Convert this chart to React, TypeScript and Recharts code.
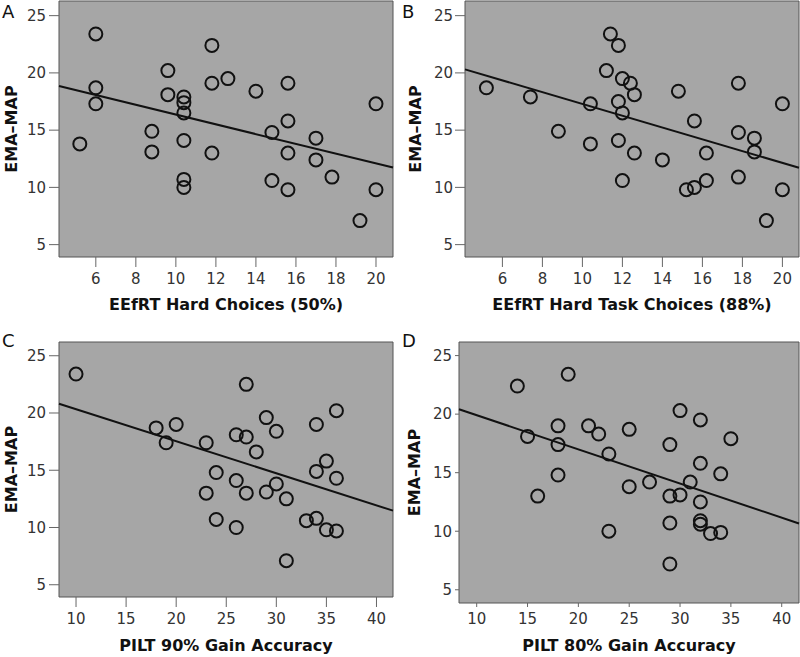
import { ScatterChart, Scatter, XAxis, YAxis, ReferenceArea, ReferenceLine } from "recharts";

type Pt = { x: number; y: number };

// A: EEfRT hard choices (50%)
const hard50X = [5.2, 6, 6, 6, 8.8, 8.8, 9.6, 9.6, 10.4, 10.4, 10.4, 10.4, 10.4, 10.4, 11.8, 11.8, 11.8, 12.6, 14, 14.8, 14.8, 15.6, 15.6, 15.6, 15.6, 17, 17, 17.8, 19.2, 20, 20];
const hard50Y = [13.8, 23.4, 18.7, 17.3, 14.9, 13.1, 20.2, 18.1, 17.9, 17.4, 16.5, 14.1, 10.7, 10.0, 22.4, 19.1, 13.0, 19.5, 18.4, 14.8, 10.6, 19.1, 15.8, 13.0, 9.8, 14.3, 12.4, 10.9, 7.1, 17.3, 9.8];
const hard50Fit: Pt[] = [{ x: 4.16, y: 18.85 }, { x: 20.85, y: 11.73 }];

// B: EEfRT hard task choices (88%)
const hard88X = [5.2, 7.4, 8.8, 10.4, 10.4, 11.2, 11.4, 11.8, 11.8, 11.8, 12, 12, 12, 12.4, 12.6, 12.6, 14, 14.8, 15.2, 15.6, 15.6, 16.2, 16.2, 17.8, 17.8, 17.8, 18.6, 18.6, 19.2, 20, 20];
const hard88Y = [18.7, 17.9, 14.9, 17.3, 13.8, 20.2, 23.4, 22.4, 17.5, 14.1, 19.5, 16.5, 10.6, 19.1, 18.1, 13.0, 12.4, 18.4, 9.8, 10.0, 15.8, 13.0, 10.6, 19.1, 14.8, 10.9, 14.3, 13.1, 7.1, 17.3, 9.8];
const hard88Fit: Pt[] = [{ x: 4.13, y: 20.31 }, { x: 20.83, y: 11.71 }];

// C: PILT 90% gain accuracy
const pilt90X = [10, 18, 19, 20, 23, 23, 24, 24, 26, 26, 26, 27, 27, 27, 28, 29, 29, 30, 30, 31, 31, 33, 34, 34, 34, 35, 35, 36, 36, 36];
const pilt90Y = [23.4, 18.7, 17.4, 19.0, 17.4, 13.0, 14.8, 10.7, 18.1, 14.1, 10.0, 17.9, 22.5, 13.0, 16.6, 19.6, 13.1, 18.4, 13.8, 12.5, 7.1, 10.6, 19.0, 14.9, 10.8, 15.8, 9.8, 20.2, 14.3, 9.7];
const pilt90Fit: Pt[] = [{ x: 8.3, y: 20.81 }, { x: 41.65, y: 11.47 }];

// D: PILT 80% gain accuracy
const pilt80X = [14, 15, 16, 18, 18, 18, 19, 21, 22, 23, 23, 25, 25, 27, 29, 29, 29, 29, 30, 30, 31, 32, 32, 32, 32, 32, 33, 34, 34, 35];
const pilt80Y = [22.4, 18.1, 13.0, 19.0, 17.4, 14.8, 23.4, 19.0, 18.3, 16.6, 10.0, 18.7, 13.8, 14.2, 17.4, 13.0, 10.7, 7.2, 20.3, 13.1, 14.2, 19.5, 15.8, 12.5, 10.9, 10.6, 9.8, 14.9, 9.9, 17.9];
const pilt80Fit: Pt[] = [{ x: 8.26, y: 20.42 }, { x: 41.7, y: 10.66 }];

const yTicks = [5, 10, 15, 20, 25];
const eefrtTicks = [6, 8, 10, 12, 14, 16, 18, 20];
const piltTicks = [10, 15, 20, 25, 30, 35, 40];

const FONT = "'DejaVu Sans', sans-serif";

const zip = (xs: number[], ys: number[]): Pt[] => xs.map((x, i) => ({ x, y: ys[i] }));

function OpenCircle(props: any) {
  const { cx, cy } = props;
  return <circle cx={cx} cy={cy} r={6.5} fill="none" stroke="#111" strokeWidth={2} />;
}

interface PanelProps {
  data: Pt[];
  fit: Pt[];
  xDomain: [number, number];
  yDomain: [number, number];
  xTicks: number[];
  xLabel: string;
  left: number;
  top: number;
  width: number;
  height: number;
  margin: { top: number; right: number; bottom: number; left: number };
  yAxisWidth: number;
  xAxisHeight: number;
  tickSize: number;
  xTickMargin: number;
  yTickMargin: number;
  xLabelOffset: number;
  yLabelOffset: number;
}

function Panel(p: PanelProps) {
  const tickStyle = { fontSize: 15, fill: "#333", fontFamily: FONT };
  return (
    <div style={{ position: "absolute", left: p.left, top: p.top }}>
      <ScatterChart width={p.width} height={p.height} margin={p.margin}>
        <XAxis
          type="number"
          dataKey="x"
          domain={p.xDomain}
          ticks={p.xTicks}
          allowDataOverflow
          axisLine={false}
          tickLine={{ stroke: "#666" }}
          tickSize={p.tickSize}
          tickMargin={p.xTickMargin}
          tick={tickStyle}
          height={p.xAxisHeight}
          interval={0}
          label={{
            value: p.xLabel,
            position: "insideBottom",
            offset: p.xLabelOffset,
            style: { fontSize: 16, fontWeight: "bold", fill: "#111", fontFamily: FONT },
          }}
        />
        <YAxis
          type="number"
          dataKey="y"
          domain={p.yDomain}
          ticks={yTicks}
          allowDataOverflow
          axisLine={false}
          tickLine={{ stroke: "#666" }}
          tickSize={p.tickSize}
          tickMargin={p.yTickMargin}
          tick={tickStyle}
          width={p.yAxisWidth}
          interval={0}
          label={{
            value: "EMA–MAP",
            angle: -90,
            position: "insideLeft",
            offset: p.yLabelOffset,
            style: { fontSize: 16, fontWeight: "bold", fill: "#111", fontFamily: FONT, textAnchor: "middle" },
          }}
        />
        <ReferenceArea
          x1={p.xDomain[0]}
          x2={p.xDomain[1]}
          y1={p.yDomain[0]}
          y2={p.yDomain[1]}
          fill="#a6a6a6"
          fillOpacity={1}
          stroke="#555"
          strokeWidth={1}
          ifOverflow="visible"
        />
        <ReferenceLine segment={p.fit} stroke="#111" strokeWidth={2} ifOverflow="visible" />
        <Scatter data={p.data} shape={OpenCircle} isAnimationActive={false} />
      </ScatterChart>
    </div>
  );
}

export default function App() {
  return (
    <div
      style={{
        position: "absolute",
        left: 0,
        top: 0,
        width: 800,
        height: 657,
        background: "#fff",
        fontFamily: FONT,
        overflow: "hidden",
      }}
    >
      <Panel
        data={zip(hard50X, hard50Y)}
        fit={hard50Fit}
        xDomain={[4.16, 20.85]}
        yDomain={[3.92, 26.28]}
        xTicks={eefrtTicks}
        xLabel="EEfRT Hard Choices (50%)"
        left={0}
        top={0}
        width={400}
        height={330}
        margin={{ top: 1, right: 7, bottom: 0, left: 0 }}
        yAxisWidth={59}
        xAxisHeight={73}
        tickSize={10}
        xTickMargin={6}
        yTickMargin={3}
        xLabelOffset={20}
        yLabelOffset={11}
      />
      <Panel
        data={zip(hard88X, hard88Y)}
        fit={hard88Fit}
        xDomain={[4.13, 20.83]}
        yDomain={[3.92, 26.28]}
        xTicks={eefrtTicks}
        xLabel="EEfRT Hard Task Choices (88%)"
        left={400}
        top={0}
        width={400}
        height={330}
        margin={{ top: 1, right: 1, bottom: 0, left: 0 }}
        yAxisWidth={65}
        xAxisHeight={73}
        tickSize={10}
        xTickMargin={6}
        yTickMargin={2}
        xLabelOffset={20}
        yLabelOffset={15.5}
      />
      <Panel
        data={zip(pilt90X, pilt90Y)}
        fit={pilt90Fit}
        xDomain={[8.3, 41.65]}
        yDomain={[3.93, 26.2]}
        xTicks={piltTicks}
        xLabel="PILT 90% Gain Accuracy"
        left={0}
        top={330}
        width={400}
        height={327}
        margin={{ top: 12, right: 7, bottom: 0, left: 0 }}
        yAxisWidth={59}
        xAxisHeight={60}
        tickSize={10}
        xTickMargin={6}
        yTickMargin={3}
        xLabelOffset={6}
        yLabelOffset={11}
      />
      <Panel
        data={zip(pilt80X, pilt80Y)}
        fit={pilt80Fit}
        xDomain={[8.26, 41.7]}
        yDomain={[3.87, 26.16]}
        xTicks={piltTicks}
        xLabel="PILT 80% Gain Accuracy"
        left={400}
        top={330}
        width={400}
        height={327}
        margin={{ top: 12, right: 1, bottom: 0, left: 0 }}
        yAxisWidth={59}
        xAxisHeight={54}
        tickSize={4}
        xTickMargin={6}
        yTickMargin={3}
        xLabelOffset={6}
        yLabelOffset={14.5}
      />
      <svg
        width={800}
        height={657}
        style={{ position: "absolute", left: 0, top: 0, pointerEvents: "none" }}
      >
        <g fontFamily={FONT} fontSize={18} fill="#111">
          <text x={2} y={18}>A</text>
          <text x={402} y={18}>B</text>
          <text x={2} y={347}>C</text>
          <text x={402} y={347}>D</text>
        </g>
      </svg>
    </div>
  );
}
